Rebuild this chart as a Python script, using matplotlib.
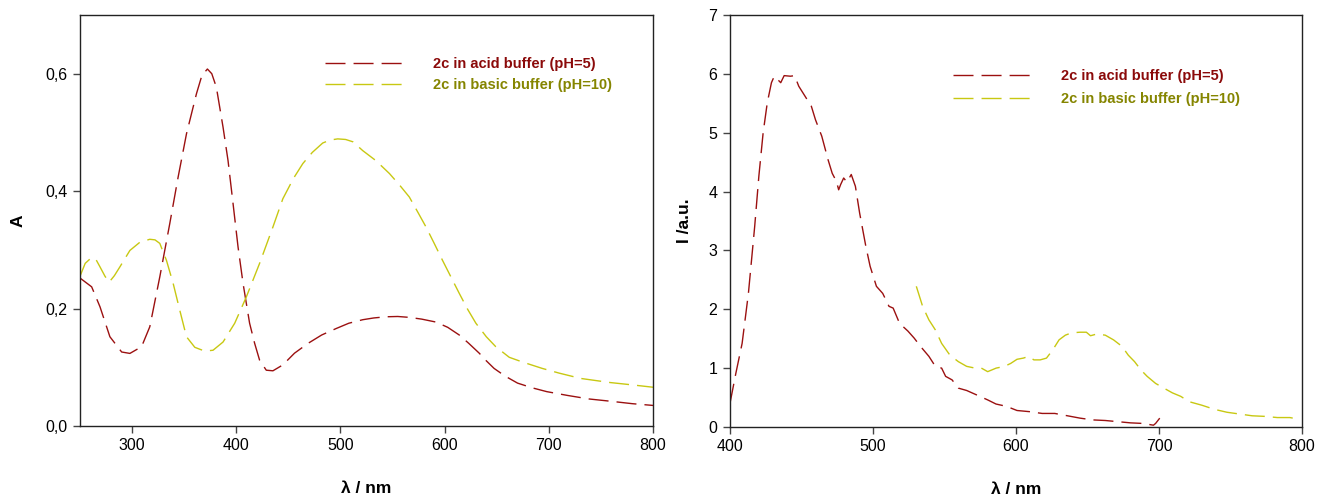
import matplotlib
matplotlib.use("Agg")
import matplotlib.pyplot as plt
from matplotlib.ticker import FuncFormatter, MultipleLocator

plt.rcParams['font.family'] = ['Liberation Sans', 'DejaVu Sans']
plt.rcParams['lines.scale_dashes'] = False

# Absorption spectra (UV-Vis)
abs_acid_wl = [250, 261.2, 269.2, 278.7, 290, 297.9, 309.1, 317, 326.6, 336.2, 344.2, 352.2, 361.8,
               367, 372.3, 376.5, 380.9, 387.3, 392.1, 396.9, 401.7, 406.5, 412.8, 417.6, 422.4,
               428.8, 435.2, 444.7, 455.9, 468.7, 482, 495.9, 508, 521.4, 532, 543.7, 555, 566.1,
               578, 591.7, 603, 614, 623, 633.2, 640, 647.5, 658, 670, 684, 698, 718, 738.6, 760,
               780, 800]
abs_acid_a = [0.252, 0.237, 0.203, 0.152, 0.126, 0.1236, 0.135, 0.169, 0.254, 0.345, 0.424, 0.4975,
              0.566, 0.597, 0.608, 0.600, 0.577, 0.509, 0.452, 0.379, 0.305, 0.243, 0.175, 0.141,
              0.112, 0.095, 0.094, 0.104, 0.124, 0.1405, 0.155, 0.166, 0.175, 0.181, 0.184, 0.186,
              0.1865, 0.185, 0.182, 0.177, 0.168, 0.155, 0.141, 0.124, 0.111, 0.098, 0.085, 0.073,
              0.065, 0.0585, 0.052, 0.046, 0.042, 0.038, 0.035]

abs_basic_wl = [250, 255, 261.2, 265.5, 269.2, 274, 278, 283, 288.3, 297.9, 307.5, 317, 322, 326.6,
                333, 339.4, 345.8, 352.2, 360.2, 369.7, 377.7, 387.3, 398.5, 409.7, 422.4, 435.2,
                444.7, 455, 463.9, 473, 483, 490, 497.4, 505, 512, 521.4, 534, 547, 556.9, 566.1,
                574, 582.1, 590, 598, 606, 614, 622, 630, 640, 649.1, 662, 674.6, 693.8, 710, 730.5,
                758.8, 780, 800]
abs_basic_a = [0.255, 0.277, 0.287, 0.283, 0.271, 0.255, 0.245, 0.256, 0.271, 0.299, 0.313, 0.318,
               0.317, 0.311, 0.282, 0.243, 0.197, 0.152, 0.134, 0.1275, 0.129, 0.143, 0.175, 0.22,
               0.277, 0.339, 0.387, 0.422, 0.447, 0.466, 0.482, 0.487, 0.489, 0.488, 0.484, 0.469,
               0.452, 0.43, 0.41, 0.39, 0.365, 0.339, 0.311, 0.282, 0.254, 0.226, 0.199, 0.175,
               0.152, 0.135, 0.117, 0.109, 0.098, 0.09, 0.081, 0.074, 0.07, 0.066]

# Emission spectra
em_acid_wl = [400, 404.1, 408.5, 412.9, 417.3, 420.2, 423.2, 426.1, 429, 431, 433.5, 435.5, 437.9,
              442.3, 445.2, 448.1, 452.5, 456.9, 459.8, 464.2, 468.6, 471.5, 474.5, 476, 477.4,
              479.5, 481.8, 484.8, 487.7, 490.7, 495, 498, 502.4, 506.8, 511.2, 514.1, 518.6,
              524.4, 528.8, 533.2, 539.1, 543.6, 548, 550.8, 555.3, 559.7, 565.5, 572.9, 580.2,
              586, 593.4, 600.7, 609.5, 618.3, 627.1, 636, 644.8, 653.6, 662.4, 671.2, 680, 688.8,
              696.1, 697.6, 700.5]
em_acid_i = [0.40, 0.91, 1.42, 2.27, 3.41, 4.26, 5.0, 5.51, 5.85, 5.96, 5.90, 5.85, 5.97, 5.96, 5.97,
             5.79, 5.62, 5.45, 5.22, 4.94, 4.54, 4.31, 4.17, 4.03, 4.12, 4.23, 4.16, 4.29, 4.09,
             3.63, 3.07, 2.73, 2.39, 2.27, 2.05, 2.02, 1.76, 1.63, 1.51, 1.37, 1.20, 1.03, 1.0,
             0.86, 0.80, 0.66, 0.62, 0.54, 0.46, 0.39, 0.35, 0.28, 0.26, 0.23, 0.23, 0.19, 0.15,
             0.12, 0.11, 0.09, 0.07, 0.06, 0.03, 0.06, 0.15]

em_basic_wl = [530.3, 534.7, 539.1, 543.6, 548, 553.8, 559.7, 565.5, 571.4, 575.8, 580.2, 586.1,
               592, 596.3, 600.7, 605.1, 608.9, 612.5, 616.9, 621.3, 625.7, 630.1, 634.5, 638.9,
               644.8, 649.2, 652.1, 656.5, 662.4, 668.2, 674.1, 678.5, 682.9, 687.3, 691.7, 697.6,
               703.4, 709.3, 715.2, 721, 729.9, 738.7, 747.5, 756.3, 765.1, 773.9, 782.7, 791.5,
               795.9]
em_basic_i = [2.39, 2.05, 1.82, 1.65, 1.42, 1.22, 1.11, 1.03, 1.0, 1.0, 0.94, 1.0, 1.03, 1.08, 1.15,
              1.17, 1.20, 1.14, 1.14, 1.17, 1.31, 1.48, 1.56, 1.60, 1.61, 1.61, 1.55, 1.58, 1.56,
              1.48, 1.37, 1.22, 1.11, 0.97, 0.86, 0.74, 0.66, 0.58, 0.52, 0.43, 0.37, 0.30, 0.25,
              0.22, 0.19, 0.18, 0.16, 0.16, 0.14]

labels = ["2c in acid buffer (pH=5)", "2c in basic buffer (pH=10)"]
line_colors = ["#9b1010", "#c8c812"]
text_colors = ["#8b0a0a", "#858500"]
dash = (14.4, 5.8)

fig = plt.figure(figsize=(13.2, 4.97), dpi=100)
ax1 = fig.add_axes([0.0606, 0.1429, 0.4341, 0.8269])
ax2 = fig.add_axes([0.5530, 0.1409, 0.4334, 0.8289])


def style_axes(ax):
    for s in ax.spines.values():
        s.set_linewidth(1.0)
        s.set_color("#222222")
    ax.tick_params(axis="both", direction="out", length=5, width=1, color="#444444",
                   labelsize=11.5, pad=4, top=False, right=False)


# Absorbance panel
ax1.plot(abs_acid_wl, abs_acid_a, color=line_colors[0], lw=1.0, dashes=dash, label=labels[0])
ax1.plot(abs_basic_wl, abs_basic_a, color=line_colors[1], lw=1.0, dashes=dash, label=labels[1])
ax1.set_xlim(250, 800)
ax1.set_ylim(0, 0.7)
ax1.set_xticks([300, 400, 500, 600, 700, 800])
ax1.set_yticks([0, 0.2, 0.4, 0.6])
ax1.yaxis.set_major_formatter(FuncFormatter(lambda v, p: f"{v:.1f}".replace(".", ",")))
ax1.set_xlabel("λ / nm", fontsize=12.5, fontweight="bold", labelpad=20)
ax1.set_ylabel("A", fontsize=12.5, fontweight="bold", labelpad=14)
style_axes(ax1)

# Emission panel
ax2.plot(em_acid_wl, em_acid_i, color=line_colors[0], lw=1.0, dashes=dash, label=labels[0])
ax2.plot(em_basic_wl, em_basic_i, color=line_colors[1], lw=1.0, dashes=dash, label=labels[1])
ax2.set_xlim(400, 800)
ax2.set_ylim(0, 7)
ax2.set_xticks([400, 500, 600, 700, 800])
ax2.yaxis.set_major_locator(MultipleLocator(1))
ax2.set_xlabel("λ / nm", fontsize=12.5, fontweight="bold", labelpad=20)
ax2.set_ylabel("I /a.u.", fontsize=12.5, fontweight="bold", labelpad=12)
style_axes(ax2)

leg_kw = dict(frameon=False, handlelength=5.4, handletextpad=2.0, borderpad=0, borderaxespad=0,
              loc="upper left", prop={"weight": "bold", "size": 10.5}, labelcolor=text_colors)
ax1.legend(bbox_to_anchor=(0.4276, 0.897), labelspacing=0.44, **leg_kw)
ax2.legend(bbox_to_anchor=(0.390, 0.868), labelspacing=0.58, **leg_kw)

fig.savefig("out.png", dpi=100)
